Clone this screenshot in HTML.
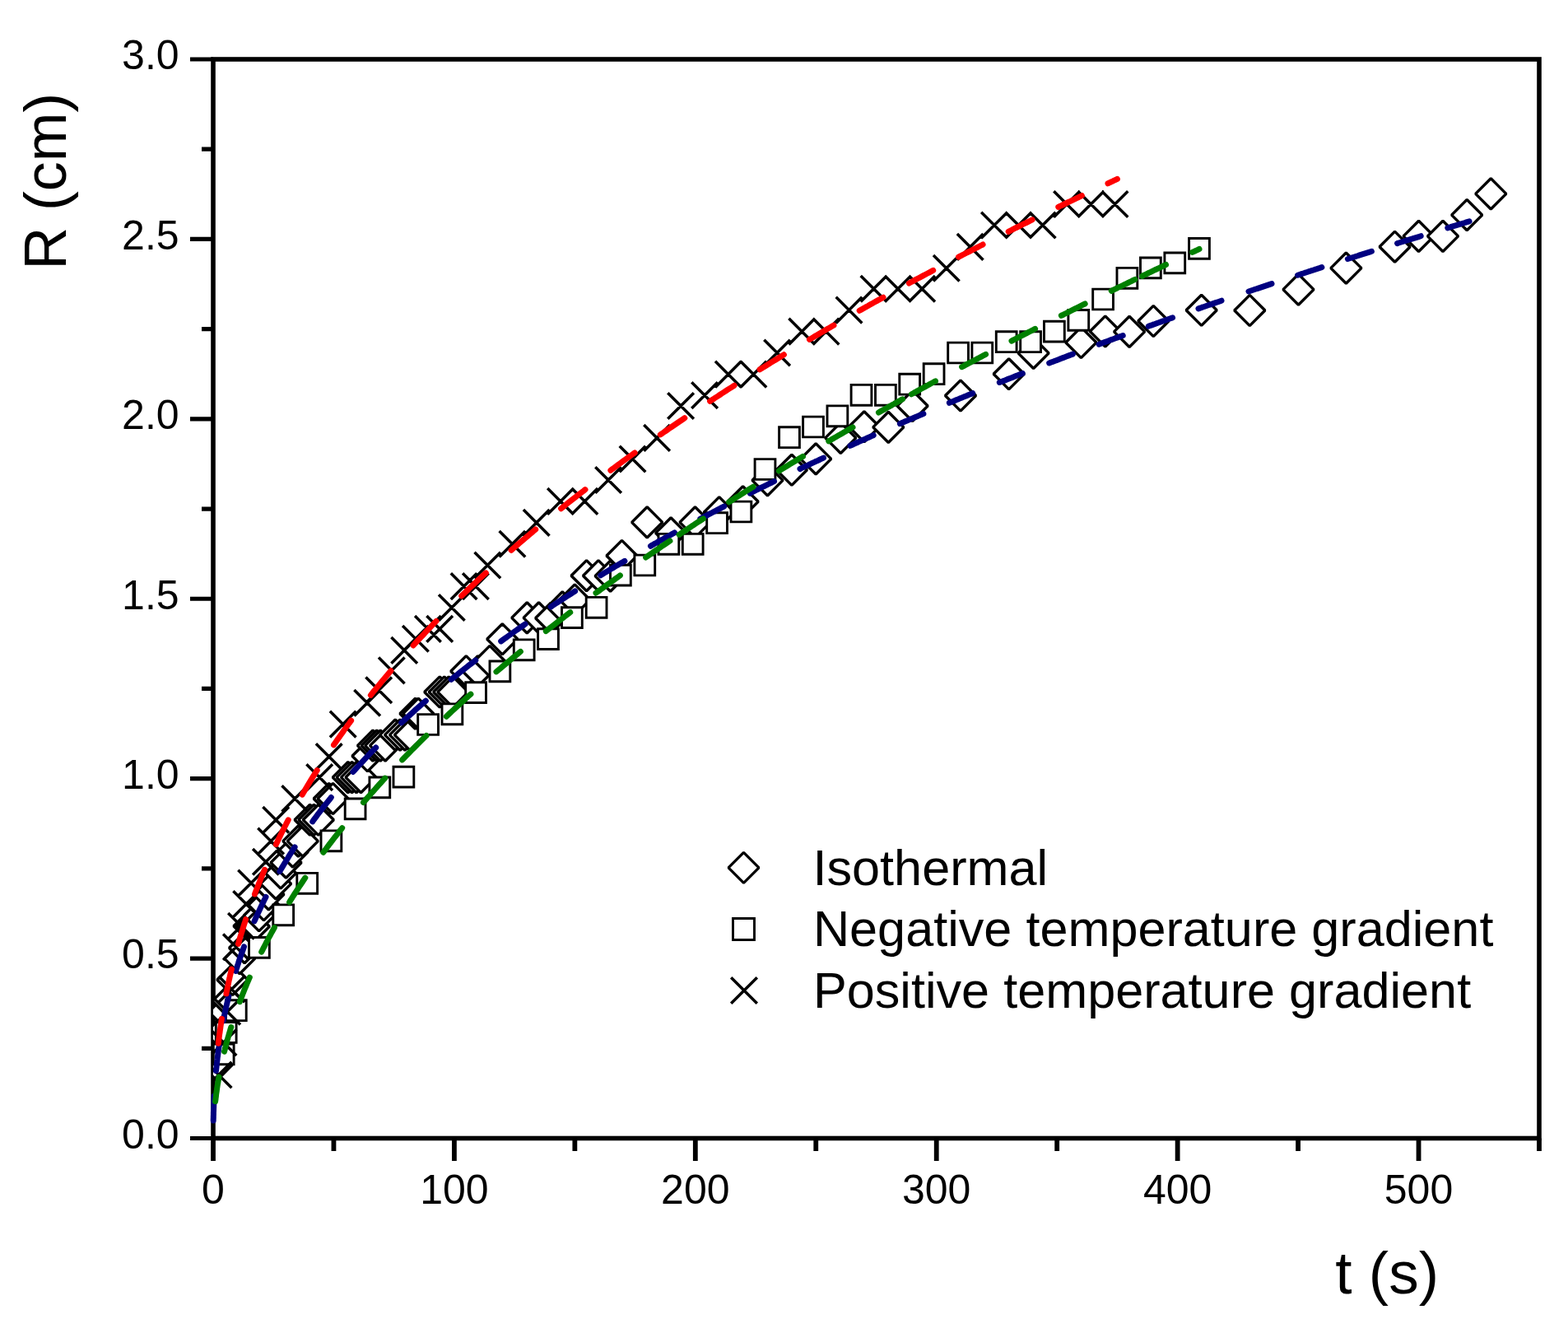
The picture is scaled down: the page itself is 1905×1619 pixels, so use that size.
<!DOCTYPE html>
<html><head><meta charset="utf-8"><style>
html,body{margin:0;padding:0;background:#fff;}
svg{display:block;}
text{font-family:"Liberation Sans",Arial,sans-serif;fill:#000;}
</style></head><body>
<svg width="1905" height="1619" viewBox="0 0 1905 1619">
<rect width="1905" height="1619" fill="#fff"/>
<g fill="none" stroke="#000">
<rect x="259" y="72" width="1611" height="1310.5" stroke-width="5.6"/>
<path d="M231.0 1382.50H259M245.0 1273.29H259M231.0 1164.08H259M245.0 1054.88H259M231.0 945.67H259M245.0 836.46H259M231.0 727.25H259M245.0 618.04H259M231.0 508.83H259M245.0 399.62H259M231.0 290.42H259M245.0 181.21H259M231.0 72.00H259" stroke-width="5.2"/>
<path d="M259.00 1382.5V1410.0M405.45 1382.5V1398.0M551.91 1382.5V1410.0M698.36 1382.5V1398.0M844.82 1382.5V1410.0M991.27 1382.5V1398.0M1137.73 1382.5V1410.0M1284.18 1382.5V1398.0M1430.64 1382.5V1410.0M1577.09 1382.5V1398.0M1723.55 1382.5V1410.0M1870.00 1382.5V1398.0" stroke-width="5.8"/>
</g>
<defs><clipPath id="pc"><rect x="259" y="72" width="1611" height="1310.5"/></clipPath></defs>
<g clip-path="url(#pc)">
<g fill="#fff" stroke="#000" stroke-width="3.4" stroke-linejoin="bevel">
<path d="M263.4 1275.0L282.0 1293.6L263.4 1312.2L244.8 1293.6Z"/>
<path d="M267.8 1236.2L286.4 1254.8L267.8 1273.4L249.2 1254.8Z"/>
<path d="M272.2 1210.3L290.8 1228.9L272.2 1247.5L253.6 1228.9Z"/>
<path d="M276.6 1197.3L295.2 1215.9L276.6 1234.5L258.0 1215.9Z"/>
<path d="M282.4 1171.4L301.0 1190.0L282.4 1208.6L263.8 1190.0Z"/>
<path d="M291.2 1145.5L309.8 1164.1L291.2 1182.7L272.6 1164.1Z"/>
<path d="M297.1 1132.6L315.7 1151.2L297.1 1169.8L278.5 1151.2Z"/>
<path d="M302.5 1106.1L321.1 1124.7L302.5 1143.3L283.9 1124.7Z"/>
<path d="M305.9 1106.6L324.5 1125.2L305.9 1143.8L287.3 1125.2Z"/>
<path d="M308.8 1106.6L327.4 1125.2L308.8 1143.8L290.2 1125.2Z"/>
<path d="M314.7 1093.7L333.3 1112.3L314.7 1130.9L296.1 1112.3Z"/>
<path d="M320.5 1080.7L339.1 1099.3L320.5 1117.9L301.9 1099.3Z"/>
<path d="M326.4 1067.8L345.0 1086.4L326.4 1105.0L307.8 1086.4Z"/>
<path d="M335.1 1054.8L353.7 1073.4L335.1 1092.0L316.5 1073.4Z"/>
<path d="M341.0 1041.9L359.6 1060.5L341.0 1079.1L322.4 1060.5Z"/>
<path d="M347.5 1029.1L366.1 1047.7L347.5 1066.3L328.9 1047.7Z"/>
<path d="M355.7 1016.0L374.3 1034.6L355.7 1053.2L337.1 1034.6Z"/>
<path d="M362.4 1003.0L381.0 1021.6L362.4 1040.2L343.8 1021.6Z"/>
<path d="M367.8 1003.0L386.4 1021.6L367.8 1040.2L349.2 1021.6Z"/>
<path d="M376.6 977.2L395.2 995.8L376.6 1014.4L358.0 995.8Z"/>
<path d="M381.4 977.2L400.0 995.8L381.4 1014.4L362.8 995.8Z"/>
<path d="M386.8 977.2L405.4 995.8L386.8 1014.4L368.2 995.8Z"/>
<path d="M399.7 951.4L418.3 970.0L399.7 988.6L381.1 970.0Z"/>
<path d="M404.5 951.4L423.1 970.0L404.5 988.6L385.9 970.0Z"/>
<path d="M422.8 925.5L441.4 944.1L422.8 962.7L404.2 944.1Z"/>
<path d="M427.6 925.5L446.2 944.1L427.6 962.7L409.0 944.1Z"/>
<path d="M433.0 925.5L451.6 944.1L433.0 962.7L414.4 944.1Z"/>
<path d="M438.5 925.5L457.1 944.1L438.5 962.7L419.9 944.1Z"/>
<path d="M446.5 899.7L465.1 918.3L446.5 936.9L427.9 918.3Z"/>
<path d="M453.0 887.0L471.6 905.6L453.0 924.2L434.4 905.6Z"/>
<path d="M457.7 887.0L476.3 905.6L457.7 924.2L439.1 905.6Z"/>
<path d="M462.2 887.0L480.8 905.6L462.2 924.2L443.6 905.6Z"/>
<path d="M468.1 887.0L486.7 905.6L468.1 924.2L449.5 905.6Z"/>
<path d="M480.2 874.0L498.8 892.6L480.2 911.2L461.6 892.6Z"/>
<path d="M486.1 874.0L504.7 892.6L486.1 911.2L467.5 892.6Z"/>
<path d="M492.0 874.0L510.6 892.6L492.0 911.2L473.4 892.6Z"/>
<path d="M497.9 874.0L516.5 892.6L497.9 911.2L479.3 892.6Z"/>
<path d="M504.5 848.1L523.1 866.7L504.5 885.3L485.9 866.7Z"/>
<path d="M508.2 848.1L526.8 866.7L508.2 885.3L489.6 866.7Z"/>
<path d="M534.3 821.9L552.9 840.5L534.3 859.1L515.7 840.5Z"/>
<path d="M539.8 821.9L558.4 840.5L539.8 859.1L521.2 840.5Z"/>
<path d="M545.2 821.9L563.8 840.5L545.2 859.1L526.6 840.5Z"/>
<path d="M550.3 821.9L568.9 840.5L550.3 859.1L531.7 840.5Z"/>
<path d="M566.3 796.6L584.9 815.2L566.3 833.8L547.7 815.2Z"/>
<path d="M580.5 796.6L599.1 815.2L580.5 833.8L561.9 815.2Z"/>
<path d="M595.0 784.4L613.6 803.0L595.0 821.6L576.4 803.0Z"/>
<path d="M610.3 757.7L628.9 776.3L610.3 794.9L591.7 776.3Z"/>
<path d="M640.3 731.8L658.9 750.4L640.3 769.0L621.7 750.4Z"/>
<path d="M654.6 731.8L673.2 750.4L654.6 769.0L636.0 750.4Z"/>
<path d="M669.2 732.2L687.8 750.8L669.2 769.4L650.6 750.8Z"/>
<path d="M683.3 718.8L701.9 737.4L683.3 756.0L664.7 737.4Z"/>
<path d="M698.3 709.9L716.9 728.5L698.3 747.1L679.7 728.5Z"/>
<path d="M712.6 680.6L731.2 699.2L712.6 717.8L694.0 699.2Z"/>
<path d="M727.0 680.6L745.6 699.2L727.0 717.8L708.4 699.2Z"/>
<path d="M741.6 681.0L760.2 699.6L741.6 718.2L723.0 699.6Z"/>
<path d="M755.5 656.4L774.1 675.0L755.5 693.6L736.9 675.0Z"/>
<path d="M786.2 615.8L804.8 634.4L786.2 653.0L767.6 634.4Z"/>
<path d="M815.1 628.8L833.7 647.4L815.1 666.0L796.5 647.4Z"/>
<path d="M844.5 615.8L863.1 634.4L844.5 653.0L825.9 634.4Z"/>
<path d="M873.8 603.6L892.4 622.2L873.8 640.8L855.2 622.2Z"/>
<path d="M902.6 590.7L921.2 609.3L902.6 627.9L884.0 609.3Z"/>
<path d="M932.5 564.8L951.1 583.4L932.5 602.0L913.9 583.4Z"/>
<path d="M961.9 552.2L980.5 570.8L961.9 589.4L943.3 570.8Z"/>
<path d="M991.2 538.8L1009.8 557.4L991.2 576.0L972.6 557.4Z"/>
<path d="M1021.3 513.3L1039.9 531.9L1021.3 550.5L1002.7 531.9Z"/>
<path d="M1049.9 499.7L1068.5 518.3L1049.9 536.9L1031.3 518.3Z"/>
<path d="M1079.3 500.3L1097.9 518.9L1079.3 537.5L1060.7 518.9Z"/>
<path d="M1108.6 474.4L1127.2 493.0L1108.6 511.6L1090.0 493.0Z"/>
<path d="M1167.0 461.9L1185.6 480.5L1167.0 499.1L1148.4 480.5Z"/>
<path d="M1225.7 435.7L1244.3 454.3L1225.7 472.9L1207.1 454.3Z"/>
<path d="M1255.6 410.3L1274.2 428.9L1255.6 447.5L1237.0 428.9Z"/>
<path d="M1313.4 397.4L1332.0 416.0L1313.4 434.6L1294.8 416.0Z"/>
<path d="M1342.8 383.9L1361.4 402.5L1342.8 421.1L1324.2 402.5Z"/>
<path d="M1372.1 384.3L1390.7 402.9L1372.1 421.5L1353.5 402.9Z"/>
<path d="M1401.3 371.4L1419.9 390.0L1401.3 408.6L1382.7 390.0Z"/>
<path d="M1459.7 358.2L1478.3 376.8L1459.7 395.4L1441.1 376.8Z"/>
<path d="M1518.3 358.4L1536.9 377.0L1518.3 395.6L1499.7 377.0Z"/>
<path d="M1577.5 333.0L1596.1 351.6L1577.5 370.2L1558.9 351.6Z"/>
<path d="M1635.4 307.0L1654.0 325.6L1635.4 344.2L1616.8 325.6Z"/>
<path d="M1694.6 281.1L1713.2 299.7L1694.6 318.3L1676.0 299.7Z"/>
<path d="M1723.6 268.3L1742.2 286.9L1723.6 305.5L1705.0 286.9Z"/>
<path d="M1753.0 268.3L1771.6 286.9L1753.0 305.5L1734.4 286.9Z"/>
<path d="M1782.2 242.5L1800.8 261.1L1782.2 279.7L1763.6 261.1Z"/>
<path d="M1811.3 216.8L1829.9 235.4L1811.3 254.0L1792.7 235.4Z"/>
</g>
<g fill="#fff" stroke="#000" stroke-width="2.9" stroke-linejoin="miter">
<path d="M259.3 1268.0h24.8v24.8h-24.8Z"/>
<path d="M262.3 1241.6h24.8v24.8h-24.8Z"/>
<path d="M274.4 1214.8h24.8v24.8h-24.8Z"/>
<path d="M302.5 1138.5h24.8v24.8h-24.8Z"/>
<path d="M331.8 1098.9h24.8v24.8h-24.8Z"/>
<path d="M360.8 1060.4h24.8v24.8h-24.8Z"/>
<path d="M390.0 1008.9h24.8v24.8h-24.8Z"/>
<path d="M419.2 970.0h24.8v24.8h-24.8Z"/>
<path d="M448.9 944.0h24.8v24.8h-24.8Z"/>
<path d="M478.0 931.2h24.8v24.8h-24.8Z"/>
<path d="M507.7 867.6h24.8v24.8h-24.8Z"/>
<path d="M537.0 854.9h24.8v24.8h-24.8Z"/>
<path d="M565.7 828.7h24.8v24.8h-24.8Z"/>
<path d="M595.0 803.0h24.8v24.8h-24.8Z"/>
<path d="M624.3 776.9h24.8v24.8h-24.8Z"/>
<path d="M653.6 763.7h24.8v24.8h-24.8Z"/>
<path d="M682.5 737.7h24.8v24.8h-24.8Z"/>
<path d="M712.2 725.4h24.8v24.8h-24.8Z"/>
<path d="M741.5 686.2h24.8v24.8h-24.8Z"/>
<path d="M770.9 674.1h24.8v24.8h-24.8Z"/>
<path d="M800.0 648.4h24.8v24.8h-24.8Z"/>
<path d="M829.3 648.4h24.8v24.8h-24.8Z"/>
<path d="M858.7 622.8h24.8v24.8h-24.8Z"/>
<path d="M888.0 609.1h24.8v24.8h-24.8Z"/>
<path d="M917.1 557.6h24.8v24.8h-24.8Z"/>
<path d="M946.6 518.8h24.8v24.8h-24.8Z"/>
<path d="M975.6 506.1h24.8v24.8h-24.8Z"/>
<path d="M1005.0 492.9h24.8v24.8h-24.8Z"/>
<path d="M1034.1 467.4h24.8v24.8h-24.8Z"/>
<path d="M1063.5 467.4h24.8v24.8h-24.8Z"/>
<path d="M1092.8 454.3h24.8v24.8h-24.8Z"/>
<path d="M1122.2 441.8h24.8v24.8h-24.8Z"/>
<path d="M1151.7 416.1h24.8v24.8h-24.8Z"/>
<path d="M1180.9 416.1h24.8v24.8h-24.8Z"/>
<path d="M1210.3 402.8h24.8v24.8h-24.8Z"/>
<path d="M1239.7 402.8h24.8v24.8h-24.8Z"/>
<path d="M1268.5 390.2h24.8v24.8h-24.8Z"/>
<path d="M1297.9 376.5h24.8v24.8h-24.8Z"/>
<path d="M1327.7 351.1h24.8v24.8h-24.8Z"/>
<path d="M1357.0 325.4h24.8v24.8h-24.8Z"/>
<path d="M1385.5 313.0h24.8v24.8h-24.8Z"/>
<path d="M1414.9 307.0h24.8v24.8h-24.8Z"/>
<path d="M1444.6 289.5h24.8v24.8h-24.8Z"/>
</g>
<path d="M1338.7 232.2L1370.3 263.8M1338.7 263.8L1370.3 232.2M1309.6 232.2L1341.2 263.8M1309.6 263.8L1341.2 232.2M1280.3 232.2L1311.9 263.8M1280.3 263.8L1311.9 232.2M1250.9 257.7L1282.5 289.3M1250.9 289.3L1282.5 257.7M1221.6 257.7L1253.2 289.3M1221.6 289.3L1253.2 257.7M1192.2 257.7L1223.8 289.3M1192.2 289.3L1223.8 257.7M1162.9 284.1L1194.5 315.7M1162.9 315.7L1194.5 284.1M1134.0 310.0L1165.6 341.6M1134.0 341.6L1165.6 310.0M1104.4 334.9L1136.0 366.5M1104.4 366.5L1136.0 334.9M1075.1 334.9L1106.7 366.5M1075.1 366.5L1106.7 334.9M1045.7 334.9L1077.3 366.5M1045.7 366.5L1077.3 334.9M1015.7 360.8L1047.3 392.4M1015.7 392.4L1047.3 360.8M987.7 386.8L1019.3 418.4M987.7 418.4L1019.3 386.8M958.4 386.8L990.0 418.4M958.4 418.4L990.0 386.8M928.3 412.7L959.9 444.3M928.3 444.3L959.9 412.7M899.6 438.8L931.2 470.4M899.6 470.4L931.2 438.8M869.0 438.8L900.6 470.4M869.0 470.4L900.6 438.8M840.3 464.3L871.9 495.9M840.3 495.9L871.9 464.3M811.3 477.2L842.9 508.8M811.3 508.8L842.9 477.2M782.3 516.1L813.9 547.7M782.3 547.7L813.9 516.1M752.7 541.7L784.3 573.3M752.7 573.3L784.3 541.7M723.3 567.2L754.9 598.8M723.3 598.8L754.9 567.2M694.6 593.1L726.2 624.7M694.6 624.7L726.2 593.1M665.2 593.1L696.8 624.7M665.2 624.7L696.8 593.1M635.9 619.1L667.5 650.7M635.9 650.7L667.5 619.1M606.6 645.0L638.2 676.6M606.6 676.6L638.2 645.0M576.5 670.7L608.1 702.3M576.5 702.3L608.1 670.7M562.1 696.3L593.7 727.9M562.1 727.9L593.7 696.3M547.8 696.3L579.4 727.9M547.8 727.9L579.4 696.3M533.0 722.2L564.6 753.8M533.0 753.8L564.6 722.2M518.4 748.1L550.0 779.7M518.4 779.7L550.0 748.1M504.1 748.1L535.7 779.7M504.1 779.7L535.7 748.1M489.1 760.0L520.7 791.6M489.1 791.6L520.7 760.0M475.4 774.1L507.0 805.7M475.4 805.7L507.0 774.1M460.0 798.6L491.6 830.2M460.0 830.2L491.6 798.6M249.8 1289.7L281.4 1321.3M249.8 1321.3L281.4 1289.7M255.7 1250.4L287.3 1282.0M255.7 1282.0L287.3 1250.4M260.4 1212.9L292.0 1244.5M260.4 1244.5L292.0 1212.9M265.6 1185.7L297.2 1217.3M265.6 1217.3L297.2 1185.7M271.1 1134.5L302.7 1166.1M271.1 1166.1L302.7 1134.5M277.2 1108.9L308.8 1140.5M277.2 1140.5L308.8 1108.9M283.4 1082.2L315.0 1113.8M283.4 1113.8L315.0 1082.2M289.3 1056.7L320.9 1088.3M289.3 1088.3L320.9 1056.7M307.1 1030.9L338.7 1062.5M307.1 1062.5L338.7 1030.9M313.3 1005.8L344.9 1037.4M313.3 1037.4L344.9 1005.8M319.4 980.0L351.0 1011.6M319.4 1011.6L351.0 980.0M342.5 954.2L374.1 985.8M342.5 985.8L374.1 954.2M372.4 928.3L404.0 959.9M372.4 959.9L404.0 928.3M383.9 903.2L415.5 934.8M383.9 934.8L415.5 903.2M400.9 863.8L432.5 895.4M400.9 895.4L432.5 863.8M430.4 838.0L462.0 869.6M430.4 869.6L462.0 838.0M444.4 822.4L476.0 854.0M444.4 854.0L476.0 822.4" fill="none" stroke="#000" stroke-width="3.5" stroke-linecap="butt"/>
</g>
<g fill="none" stroke-width="7.0" stroke-linecap="round" stroke-linejoin="round">
<path d="M259.2 1361.0 L259.2 1359.4 L259.3 1357.7 L259.3 1355.8 L259.4 1353.8 L259.4 1351.6 L259.5 1349.3 L259.6 1346.9 L259.7 1344.2 L259.8 1341.4 L259.9 1338.3 L260.1 1335.1 L260.2 1331.6 L260.2 1331.3 M262.5 1300.5 L262.7 1298.4 L263.0 1296.3 L263.2 1294.0 L263.4 1291.8 L263.7 1289.4 L264.0 1287.1 L264.2 1284.6 L264.6 1282.1 L264.9 1279.5 L265.2 1276.9 L265.6 1274.2 L266.0 1271.4 L266.0 1270.9 M271.2 1240.0 L271.7 1237.7 L272.1 1235.4 L272.6 1233.1 L273.1 1230.7 L273.6 1228.3 L274.2 1225.8 L274.7 1223.4 L275.3 1220.8 L275.9 1218.3 L276.5 1215.7 L277.1 1213.0 L277.8 1210.4 M286.4 1179.5 L287.1 1177.2 L287.9 1174.9 L288.6 1172.6 L289.4 1170.3 L290.1 1167.9 L290.9 1165.5 L291.8 1163.1 L292.6 1160.7 L293.5 1158.2 L294.4 1155.7 L295.3 1153.2 L296.2 1150.7 L296.5 1149.8 M309.0 1118.9 L310.0 1116.7 L311.0 1114.4 L312.1 1112.1 L313.1 1109.8 L314.2 1107.5 L315.3 1105.2 L316.4 1102.8 L317.6 1100.4 L318.7 1098.0 L319.9 1095.6 L321.1 1093.1 L322.4 1090.7 L323.0 1089.4 M339.9 1058.4 L341.2 1056.1 L342.5 1053.9 L343.9 1051.6 L345.3 1049.3 L346.7 1046.9 L348.1 1044.6 L349.6 1042.3 L351.0 1039.9 L352.5 1037.5 L354.1 1035.1 L355.6 1032.7 L357.2 1030.2 L358.1 1028.9 M379.7 997.9 L381.3 995.6 L383.0 993.3 L384.8 991.0 L386.5 988.6 L388.3 986.3 L390.1 983.9 L392.0 981.6 L393.8 979.2 L395.7 976.8 L397.6 974.4 L399.6 972.0 L401.5 969.6 L402.3 968.5 M428.9 937.5 L431.1 935.1 L433.3 932.7 L435.5 930.2 L437.8 927.8 L440.1 925.3 L442.4 922.8 L444.7 920.4 L447.1 917.9 L449.5 915.3 L452.0 912.8 L454.4 910.3 L456.7 908.0 M487.7 877.8 L489.8 875.8 L492.0 873.8 L494.2 871.8 L496.3 869.8 L498.5 867.8 L500.8 865.8 L503.0 863.8 L505.3 861.7 L507.6 859.7 L509.9 857.6 L512.2 855.6 L514.6 853.5 L517.0 851.5 L517.3 851.2 M548.2 825.2 L550.6 823.3 L553.0 821.4 L555.4 819.5 L557.8 817.5 L560.2 815.6 L562.6 813.7 L565.1 811.7 L567.6 809.8 L570.1 807.8 L572.6 805.9 L575.2 803.9 L577.8 801.9 M608.7 778.9 L610.7 777.4 L612.7 775.9 L614.8 774.5 L616.8 773.0 L618.9 771.5 L621.0 770.0 L623.1 768.5 L625.2 767.0 L627.3 765.5 L629.5 764.0 L631.6 762.5 L633.8 761.0 L636.0 759.5 L638.1 758.0 M669.2 737.1 L671.5 735.5 L673.9 733.9 L676.3 732.4 L678.8 730.8 L681.2 729.2 L683.6 727.6 L686.1 726.0 L688.6 724.4 L691.1 722.8 L693.6 721.2 L696.1 719.6 L698.6 718.0 M729.7 698.8 L731.9 697.4 L734.1 696.1 L736.3 694.8 L738.5 693.5 L740.7 692.1 L742.9 690.8 L745.2 689.4 L747.4 688.1 L749.7 686.8 L752.0 685.4 L754.3 684.1 L756.6 682.7 L758.9 681.4 M790.5 663.2 L792.3 662.1 L794.2 661.1 L796.0 660.0 L797.9 659.0 L799.8 657.9 L801.6 656.9 L803.5 655.8 L805.4 654.8 L807.3 653.7 L809.2 652.7 L811.1 651.6 L813.1 650.6 L815.0 649.5 L816.9 648.4 L818.9 647.4 L819.5 647.0 M850.8 630.1 L852.9 629.1 L854.9 628.0 L857.0 626.9 L859.1 625.8 L861.2 624.7 L863.3 623.6 L865.4 622.5 L867.5 621.4 L869.6 620.3 L871.7 619.2 L873.8 618.1 L876.0 617.0 L878.1 615.9 L879.6 615.1 M911.2 599.1 L913.5 597.9 L915.7 596.8 L918.0 595.7 L920.3 594.5 L922.6 593.4 L924.9 592.2 L927.2 591.1 L929.6 590.0 L931.9 588.8 L934.2 587.7 L936.6 586.5 L938.9 585.4 L940.5 584.6 M972.0 569.5 L973.6 568.7 L975.3 567.9 L976.9 567.1 L978.6 566.4 L980.2 565.6 L981.9 564.8 L983.6 564.0 L985.3 563.2 L986.9 562.4 L988.6 561.6 L990.3 560.8 L992.0 560.1 L993.7 559.3 L995.4 558.5 L997.1 557.7 L998.8 556.9 L1000.5 556.1 M1033.0 541.3 L1034.8 540.5 L1036.6 539.7 L1038.4 538.8 L1040.2 538.0 L1042.0 537.2 L1043.8 536.4 L1045.6 535.6 L1047.4 534.8 L1049.2 534.0 L1051.1 533.2 L1052.9 532.3 L1054.8 531.5 L1056.6 530.7 L1058.4 529.9 L1060.3 529.1 L1061.2 528.7 M1093.4 514.6 L1095.3 513.8 L1097.3 512.9 L1099.2 512.1 L1101.2 511.3 L1103.1 510.4 L1105.1 509.6 L1107.0 508.8 L1109.0 507.9 L1110.9 507.1 L1112.9 506.2 L1114.9 505.4 L1116.9 504.6 L1118.9 503.7 L1120.9 502.9 L1121.9 502.5 M1153.4 489.3 L1155.4 488.4 L1157.5 487.6 L1159.6 486.7 L1161.7 485.8 L1163.8 485.0 L1165.9 484.1 L1168.0 483.3 L1170.1 482.4 L1172.2 481.5 L1174.3 480.7 L1176.4 479.8 L1178.5 478.9 L1180.7 478.1 L1181.7 477.6 M1214.3 464.5 L1216.5 463.7 L1218.7 462.8 L1221.0 461.9 L1223.2 461.0 L1225.4 460.1 L1227.7 459.3 L1229.9 458.4 L1232.1 457.5 L1234.4 456.6 L1236.7 455.7 L1238.9 454.8 L1241.2 453.9 L1242.3 453.5 M1274.7 441.0 L1277.0 440.1 L1279.4 439.2 L1281.8 438.3 L1284.1 437.4 L1286.5 436.5 L1288.9 435.5 L1291.3 434.6 L1293.7 433.7 L1296.1 432.8 L1298.5 431.9 L1300.9 431.0 L1303.3 430.1 M1335.2 418.2 L1337.7 417.3 L1340.2 416.3 L1342.7 415.4 L1345.2 414.5 L1347.7 413.6 L1350.2 412.6 L1352.7 411.7 L1355.3 410.8 L1357.8 409.9 L1360.3 408.9 L1362.9 408.0 L1364.2 407.5 M1395.3 396.3 L1396.6 395.8 L1397.9 395.3 L1399.2 394.9 L1400.5 394.4 L1401.9 393.9 L1403.2 393.5 L1404.5 393.0 L1405.8 392.5 L1407.2 392.0 L1408.5 391.6 L1409.8 391.1 L1411.2 390.6 L1412.5 390.1 L1413.8 389.7 L1415.2 389.2 L1416.5 388.7 L1417.8 388.3 L1419.2 387.8 L1420.5 387.3 L1421.9 386.8 L1423.2 386.3 L1424.6 385.9 M1456.0 374.9 L1457.4 374.4 L1458.8 373.9 L1460.1 373.4 L1461.5 372.9 L1462.9 372.5 L1464.3 372.0 L1465.7 371.5 L1467.1 371.0 L1468.5 370.5 L1469.9 370.1 L1471.3 369.6 L1472.7 369.1 L1474.1 368.6 L1475.5 368.1 L1476.9 367.6 L1478.3 367.2 L1479.8 366.7 L1481.2 366.2 L1482.6 365.7 L1484.0 365.2 M1517.0 354.0 L1518.5 353.5 L1519.9 353.0 L1521.4 352.5 L1522.9 352.0 L1524.3 351.5 L1525.8 351.0 L1527.2 350.6 L1528.7 350.1 L1530.2 349.6 L1531.7 349.1 L1533.1 348.6 L1534.6 348.1 L1536.1 347.6 L1537.6 347.1 L1539.0 346.6 L1540.5 346.1 L1542.0 345.6 L1543.5 345.1 L1545.0 344.6 M1576.6 334.2 L1578.1 333.7 L1579.6 333.2 L1581.2 332.7 L1582.7 332.2 L1584.2 331.7 L1585.8 331.2 L1587.3 330.7 L1588.8 330.2 L1590.4 329.7 L1591.9 329.2 L1593.5 328.7 L1595.0 328.2 L1596.5 327.7 L1598.1 327.2 L1599.6 326.7 L1601.2 326.2 L1602.7 325.7 L1604.3 325.2 L1605.9 324.7 M1637.4 314.5 L1639.0 314.0 L1640.6 313.5 L1642.2 313.0 L1643.8 312.5 L1645.4 312.0 L1647.0 311.5 L1648.6 311.0 L1650.2 310.5 L1651.8 309.9 L1653.4 309.4 L1655.0 308.9 L1656.6 308.4 L1658.3 307.9 L1659.9 307.4 L1661.5 306.9 L1663.1 306.4 L1664.7 305.9 L1666.4 305.3 M1697.6 295.6 L1699.3 295.0 L1701.0 294.5 L1702.6 294.0 L1704.3 293.5 L1706.0 293.0 L1707.7 292.5 L1709.3 291.9 L1711.0 291.4 L1712.7 290.9 L1714.4 290.4 L1716.1 289.9 L1717.8 289.3 L1719.4 288.8 L1721.1 288.3 L1722.8 287.8 L1724.5 287.3 L1726.2 286.7 M1758.8 276.8 L1760.5 276.3 L1762.3 275.7 L1764.0 275.2 L1765.8 274.7 L1767.5 274.2 L1769.3 273.6 L1771.0 273.1 L1772.8 272.6 L1774.5 272.0 L1776.3 271.5 L1778.0 271.0 L1779.8 270.5 L1781.5 269.9 L1783.3 269.4 L1785.1 268.9" stroke="#000080"/>
<path d="M265.3 1267.2 L265.6 1265.0 L265.8 1262.7 L266.1 1260.5 L266.4 1258.1 L266.7 1255.8 L267.1 1253.4 L267.4 1250.9 L267.8 1248.4 L268.1 1245.9 L268.5 1243.3 L268.9 1240.6 L269.3 1238.0 L269.4 1237.5 M274.9 1206.8 L275.3 1204.5 L275.8 1202.2 L276.3 1199.9 L276.8 1197.6 L277.3 1195.2 L277.8 1192.8 L278.3 1190.4 L278.9 1187.9 L279.4 1185.4 L280.0 1182.9 L280.6 1180.3 L281.2 1177.7 L281.4 1177.1 M289.5 1146.3 L290.2 1144.0 L290.8 1141.7 L291.5 1139.3 L292.2 1136.9 L293.0 1134.5 L293.7 1132.1 L294.5 1129.7 L295.2 1127.2 L296.0 1124.7 L296.8 1122.2 L297.7 1119.6 L298.5 1117.0 L298.6 1116.7 M309.5 1086.0 L310.4 1083.6 L311.3 1081.2 L312.3 1078.8 L313.2 1076.4 L314.2 1073.9 L315.2 1071.5 L316.2 1069.0 L317.2 1066.5 L318.2 1064.0 L319.3 1061.4 L320.4 1058.9 L321.5 1056.3 M335.4 1025.6 L336.5 1023.2 L337.6 1020.9 L338.7 1018.6 L339.9 1016.2 L341.0 1013.8 L342.2 1011.5 L343.4 1009.1 L344.7 1006.6 L345.9 1004.2 L347.2 1001.8 L348.4 999.3 L349.7 996.8 L350.2 995.9 M367.3 965.1 L368.6 962.8 L370.0 960.4 L371.4 958.1 L372.8 955.7 L374.2 953.3 L375.7 951.0 L377.1 948.6 L378.6 946.1 L380.1 943.7 L381.6 941.3 L383.1 938.8 L384.7 936.3 L385.2 935.6 M405.5 904.8 L407.1 902.4 L408.8 900.0 L410.5 897.6 L412.2 895.2 L413.9 892.8 L415.6 890.4 L417.4 887.9 L419.1 885.4 L420.9 883.0 L422.7 880.5 L424.6 878.0 L426.4 875.5 L426.6 875.2 M450.4 844.3 L452.3 841.9 L454.2 839.6 L456.2 837.2 L458.1 834.8 L460.1 832.4 L462.1 830.0 L464.1 827.6 L466.1 825.1 L468.1 822.7 L470.2 820.3 L472.3 817.8 L474.4 815.3 L474.8 814.8 M502.1 784.0 L504.2 781.7 L506.3 779.4 L508.4 777.2 L510.5 774.9 L512.7 772.6 L514.8 770.3 L517.0 767.9 L519.2 765.6 L521.4 763.3 L523.7 760.9 L525.9 758.6 L528.2 756.2 L530.0 754.4 M560.7 723.8 L563.1 721.5 L565.5 719.2 L567.9 716.9 L570.3 714.5 L572.8 712.2 L575.2 709.9 L577.7 707.5 L580.2 705.2 L582.8 702.8 L585.3 700.4 L587.9 698.1 L590.3 695.9 M621.1 668.3 L623.5 666.2 L625.9 664.1 L628.3 662.0 L630.7 659.9 L633.1 657.8 L635.6 655.7 L638.1 653.6 L640.6 651.5 L643.1 649.4 L645.6 647.3 L648.1 645.1 L650.7 643.0 M681.6 617.7 L683.8 616.0 L686.0 614.2 L688.2 612.4 L690.5 610.6 L692.8 608.8 L695.0 607.0 L697.3 605.2 L699.6 603.4 L701.9 601.6 L704.3 599.8 L706.6 598.0 L709.0 596.2 L711.0 594.6 M741.9 571.3 L744.1 569.6 L746.3 568.0 L748.6 566.3 L750.8 564.7 L753.1 563.0 L755.4 561.3 L757.6 559.7 L759.9 558.0 L762.2 556.3 L764.5 554.7 L766.9 553.0 L769.2 551.3 L771.2 549.9 M802.3 527.9 L804.4 526.5 L806.5 525.0 L808.7 523.5 L810.9 522.0 L813.0 520.5 L815.2 519.0 L817.4 517.5 L819.6 516.0 L821.8 514.5 L824.0 513.0 L826.2 511.5 L828.5 510.0 L830.7 508.5 L831.8 507.7 M862.6 487.3 L865.0 485.7 L867.4 484.2 L869.8 482.6 L872.2 481.1 L874.6 479.5 L877.0 477.9 L879.4 476.4 L881.9 474.8 L884.3 473.2 L886.8 471.6 L889.2 470.1 L891.7 468.5 L892.1 468.2 M923.1 448.8 L925.3 447.4 L927.5 446.1 L929.7 444.7 L931.9 443.4 L934.1 442.0 L936.3 440.6 L938.5 439.3 L940.7 437.9 L943.0 436.6 L945.2 435.2 L947.5 433.8 L949.7 432.5 L952.0 431.1 L952.4 430.8 M983.5 412.3 L985.9 410.9 L988.3 409.5 L990.6 408.1 L993.0 406.7 L995.4 405.2 L997.9 403.8 L1000.3 402.4 L1002.7 401.0 L1005.1 399.6 L1007.6 398.2 L1010.0 396.8 L1012.5 395.3 L1013.0 395.1 M1044.2 377.3 L1046.3 376.1 L1048.3 374.9 L1050.4 373.8 L1052.5 372.6 L1054.6 371.5 L1056.6 370.3 L1058.7 369.1 L1060.8 368.0 L1062.9 366.8 L1065.0 365.6 L1067.2 364.4 L1069.3 363.3 L1071.4 362.1 L1073.0 361.2 M1104.5 344.0 L1106.7 342.8 L1108.9 341.6 L1111.1 340.4 L1113.4 339.2 L1115.6 338.0 L1117.9 336.8 L1120.1 335.6 L1122.4 334.4 L1124.6 333.2 L1126.9 332.0 L1129.2 330.8 L1131.4 329.6 L1133.7 328.4 M1164.6 312.2 L1167.0 310.9 L1169.4 309.7 L1171.7 308.5 L1174.1 307.2 L1176.5 306.0 L1178.9 304.8 L1181.3 303.5 L1183.8 302.3 L1186.2 301.0 L1188.6 299.8 L1191.1 298.5 L1193.5 297.3 L1194.1 297.0 M1225.2 281.3 L1227.1 280.3 L1229.0 279.4 L1230.9 278.4 L1232.8 277.4 L1234.7 276.5 L1236.7 275.5 L1238.6 274.6 L1240.5 273.6 L1242.4 272.7 L1244.4 271.7 L1246.3 270.8 L1248.2 269.8 L1250.2 268.8 L1252.1 267.9 L1254.1 266.9 M1285.8 251.4 L1287.8 250.4 L1289.9 249.5 L1291.9 248.5 L1293.9 247.5 L1296.0 246.5 L1298.0 245.5 L1300.0 244.6 L1302.1 243.6 L1304.1 242.6 L1306.2 241.6 L1308.2 240.6 L1310.3 239.7 L1312.4 238.7 L1314.4 237.7 M1346.0 222.8 L1346.7 222.5 L1347.4 222.1 L1348.1 221.8 L1348.8 221.5 L1349.5 221.1 L1350.2 220.8 L1351.0 220.5 L1351.7 220.1 L1352.4 219.8 L1353.1 219.4 L1353.8 219.1 L1354.5 218.8 L1355.3 218.4 L1356.0 218.1 L1356.7 217.8 L1357.4 217.4" stroke="#ff0000"/>
<path d="M261.6 1337.7 L261.9 1335.8 L262.1 1333.8 L262.4 1331.7 L262.6 1329.5 L262.9 1327.3 L263.3 1324.9 L263.6 1322.4 L264.0 1319.8 L264.4 1317.1 L264.9 1314.3 L265.4 1311.4 L265.9 1308.4 L266.0 1308.1 M272.5 1277.2 L273.1 1275.1 L273.6 1272.9 L274.2 1270.6 L274.8 1268.3 L275.4 1265.9 L276.1 1263.5 L276.8 1261.1 L277.5 1258.6 L278.2 1256.1 L279.0 1253.5 L279.8 1250.8 L280.6 1248.1 L280.8 1247.6 M291.3 1216.7 L292.1 1214.5 L293.0 1212.2 L293.9 1209.9 L294.8 1207.5 L295.8 1205.1 L296.7 1202.7 L297.7 1200.2 L298.8 1197.8 L299.8 1195.2 L300.9 1192.7 L302.0 1190.1 L303.1 1187.5 L303.3 1187.1 M317.7 1156.2 L318.9 1153.9 L320.0 1151.6 L321.2 1149.3 L322.4 1147.0 L323.6 1144.6 L324.9 1142.2 L326.1 1139.8 L327.4 1137.4 L328.8 1135.0 L330.1 1132.5 L331.5 1130.0 L332.9 1127.5 L333.4 1126.6 M351.6 1095.7 L353.0 1093.4 L354.5 1091.1 L355.9 1088.8 L357.4 1086.5 L358.9 1084.1 L360.5 1081.7 L362.0 1079.3 L363.6 1076.9 L365.2 1074.5 L366.9 1072.0 L368.5 1069.5 L370.2 1067.0 L370.8 1066.2 M392.9 1035.2 L394.6 1032.9 L396.4 1030.5 L398.2 1028.1 L400.0 1025.7 L401.8 1023.3 L403.7 1020.8 L405.6 1018.4 L407.5 1015.9 L409.5 1013.5 L411.4 1011.0 L413.4 1008.4 L415.5 1005.9 L415.7 1005.6 M441.5 974.6 L443.4 972.4 L445.4 970.1 L447.4 967.8 L449.5 965.5 L451.5 963.1 L453.6 960.8 L455.7 958.5 L457.8 956.1 L459.9 953.7 L462.1 951.3 L464.3 948.9 L466.5 946.5 L467.8 945.1 M488.7 922.9 L491.0 920.5 L493.3 918.1 L495.7 915.7 L498.0 913.3 L500.4 910.9 L502.8 908.5 L505.3 906.0 L507.7 903.6 L510.2 901.1 L512.7 898.6 L515.3 896.1 L517.8 893.6 L518.0 893.4 M542.3 870.2 L544.5 868.1 L546.6 866.1 L548.9 864.0 L551.1 862.0 L553.3 859.9 L555.6 857.8 L557.9 855.8 L560.2 853.7 L562.5 851.6 L564.8 849.5 L567.1 847.3 L569.5 845.2 L571.9 843.1 M603.0 815.9 L605.4 813.9 L607.8 811.9 L610.2 809.8 L612.6 807.8 L615.1 805.7 L617.5 803.7 L620.0 801.6 L622.5 799.5 L625.0 797.4 L627.5 795.4 L630.1 793.3 L632.4 791.4 M663.3 766.5 L665.5 764.8 L667.6 763.1 L669.8 761.4 L672.0 759.7 L674.3 757.9 L676.5 756.2 L678.7 754.5 L681.0 752.7 L683.3 751.0 L685.5 749.2 L687.8 747.5 L690.1 745.7 L692.4 743.9 L692.8 743.7 M724.0 720.2 L726.2 718.7 L728.3 717.1 L730.5 715.5 L732.7 713.9 L734.8 712.3 L737.0 710.7 L739.2 709.1 L741.4 707.5 L743.7 705.9 L745.9 704.3 L748.1 702.7 L750.4 701.1 L752.6 699.5 L753.4 698.9 M784.6 677.0 L787.0 675.3 L789.4 673.6 L791.9 671.9 L794.3 670.2 L796.8 668.5 L799.3 666.8 L801.8 665.1 L804.2 663.4 L806.8 661.7 L809.3 660.0 L811.8 658.3 L813.9 656.9 M825.1 649.3 L827.2 647.9 L829.4 646.4 L831.6 645.0 L833.8 643.5 L836.0 642.1 L838.2 640.6 L840.4 639.1 L842.7 637.7 L844.9 636.2 L847.1 634.7 L849.4 633.2 L851.7 631.7 L853.9 630.3 L854.4 630.0 M885.7 609.7 L888.1 608.2 L890.5 606.7 L892.9 605.1 L895.4 603.6 L897.8 602.1 L900.2 600.5 L902.7 599.0 L905.2 597.4 L907.6 595.9 L910.1 594.3 L912.6 592.7 L915.1 591.2 M946.5 571.9 L948.6 570.6 L950.7 569.3 L952.8 568.0 L954.9 566.7 L957.1 565.4 L959.2 564.1 L961.4 562.8 L963.5 561.5 L965.7 560.2 L967.8 558.9 L970.0 557.6 L972.2 556.3 L974.4 555.0 L975.5 554.4 M1006.8 535.8 L1009.1 534.5 L1011.4 533.1 L1013.7 531.8 L1016.0 530.5 L1018.4 529.1 L1020.7 527.8 L1023.0 526.4 L1025.4 525.0 L1027.7 523.7 L1030.1 522.3 L1032.4 521.0 L1034.8 519.6 L1036.0 518.9 M1067.5 501.0 L1069.4 499.9 L1071.2 498.9 L1073.1 497.8 L1075.0 496.8 L1076.9 495.7 L1078.7 494.7 L1080.6 493.6 L1082.5 492.6 L1084.4 491.5 L1086.3 490.5 L1088.2 489.4 L1090.1 488.4 L1092.0 487.3 L1093.9 486.2 L1095.8 485.2 L1096.5 484.8 M1107.4 478.8 L1109.4 477.7 L1111.3 476.6 L1113.3 475.5 L1115.3 474.5 L1117.2 473.4 L1119.2 472.3 L1121.2 471.2 L1123.2 470.1 L1125.1 469.1 L1127.1 468.0 L1129.1 466.9 L1131.1 465.8 L1133.1 464.7 L1135.1 463.6 L1136.5 462.9 M1168.6 445.7 L1170.7 444.6 L1172.8 443.4 L1174.9 442.3 L1177.0 441.2 L1179.1 440.1 L1181.2 439.0 L1183.3 437.9 L1185.5 436.7 L1187.6 435.6 L1189.7 434.5 L1191.9 433.4 L1194.0 432.2 L1196.2 431.1 L1197.6 430.4 M1229.0 414.1 L1231.2 412.9 L1233.4 411.8 L1235.7 410.6 L1237.9 409.4 L1240.2 408.3 L1242.4 407.1 L1244.7 406.0 L1247.0 404.8 L1249.2 403.7 L1251.5 402.5 L1253.8 401.3 L1256.1 400.2 L1257.6 399.4 M1289.4 383.3 L1291.8 382.2 L1294.1 381.0 L1296.5 379.8 L1298.9 378.6 L1301.3 377.4 L1303.7 376.2 L1306.1 375.0 L1308.5 373.8 L1310.9 372.6 L1313.3 371.4 L1315.7 370.2 L1318.2 369.0 M1350.3 353.3 L1351.9 352.5 L1353.6 351.7 L1355.3 350.9 L1356.9 350.0 L1358.6 349.2 L1360.3 348.4 L1362.0 347.6 L1363.7 346.8 L1365.4 346.0 L1367.1 345.1 L1368.8 344.3 L1370.5 343.5 L1372.2 342.7 L1373.9 341.9 L1375.6 341.0 L1377.3 340.2 L1379.0 339.4 M1387.6 335.3 L1389.3 334.4 L1391.1 333.6 L1392.8 332.8 L1394.5 332.0 L1396.3 331.1 L1398.0 330.3 L1399.8 329.5 L1401.5 328.6 L1403.3 327.8 L1405.0 327.0 L1406.8 326.1 L1408.5 325.3 L1410.3 324.5 L1412.0 323.6 L1413.8 322.8 L1415.6 321.9 L1416.5 321.5 M1448.8 306.3 L1449.7 305.9 L1450.6 305.5 L1451.5 305.1 L1452.4 304.6 L1453.3 304.2 L1454.3 303.8 L1455.2 303.4 L1456.1 302.9 L1457.0 302.5" stroke="#008000"/>
</g>
<g font-size="50" text-anchor="end"><text x="217.6" y="1394.8">0.0</text><text x="217.6" y="1176.4">0.5</text><text x="217.6" y="958.0">1.0</text><text x="217.6" y="739.5">1.5</text><text x="217.6" y="521.1">2.0</text><text x="217.6" y="302.7">2.5</text><text x="217.6" y="84.3">3.0</text></g>
<g font-size="50" text-anchor="middle"><text x="259.0" y="1462">0</text><text x="551.9" y="1462">100</text><text x="844.8" y="1462">200</text><text x="1137.7" y="1462">300</text><text x="1430.6" y="1462">400</text><text x="1723.5" y="1462">500</text></g>
<text transform="translate(80,327.6) rotate(-90)" font-size="71.6">R (cm)</text>
<text x="1622.3" y="1570.5" font-size="73">t (s)</text>
<g font-size="61.2">
<text x="987.5" y="1074.8">Isothermal</text>
<text x="987.9" y="1148.8">Negative temperature gradient</text>
<text x="987.9" y="1223.9">Positive temperature gradient</text>
</g>
<g fill="none" stroke="#000">
<path d="M903.5 1035.4L922.0 1053.9L903.5 1072.4L885.0 1053.9Z" stroke-width="3.2" stroke-linejoin="bevel"/>
<path d="M890.5 1115.5h26.0v26.0h-26.0Z" stroke-width="2.9"/>
<path d="M888.2 1187.2L919.8 1218.8M888.2 1218.8L919.8 1187.2" stroke-width="3.5"/>
</g>
</svg>
</body></html>
